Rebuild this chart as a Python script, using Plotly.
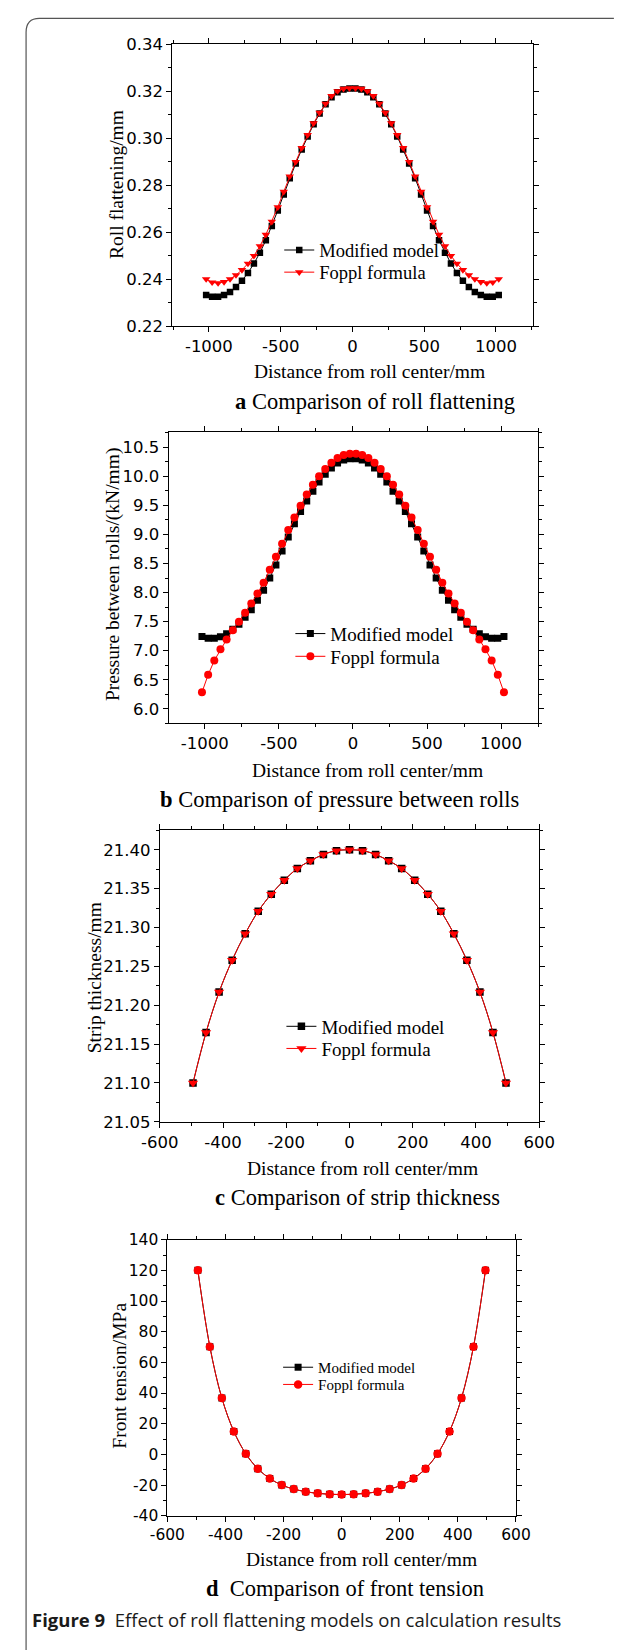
import plotly.graph_objects as go

W, H = 624, 1650

# ---------------- data ----------------
# (a) Roll flattening, (b) Pressure between rolls
x_ab = [-1019.2, -977.6, -936.0, -894.4, -852.8, -811.2, -769.6, -728.0, -686.4, -644.8,
        -603.2, -561.6, -520.0, -478.4, -436.8, -395.2, -353.6, -312.0, -270.4, -228.8,
        -187.2, -145.6, -104.0, -62.4, -20.8,
        20.8, 62.4, 104.0, 145.6, 187.2, 228.8, 270.4, 312.0, 353.6, 395.2,
        436.8, 478.4, 520.0, 561.6, 603.2, 644.8, 686.4, 728.0, 769.6, 811.2,
        852.8, 894.4, 936.0, 977.6, 1019.2]

flat_modified = [0.2333, 0.2326, 0.2326, 0.2333, 0.2346, 0.2367, 0.2394, 0.2427, 0.2467, 0.2513,
                 0.2566, 0.2627, 0.2693, 0.2761, 0.2830, 0.2893, 0.2952, 0.3008, 0.3060, 0.3105,
                 0.3145, 0.3175, 0.3196, 0.3208, 0.3212,
                 0.3212, 0.3208, 0.3196, 0.3175, 0.3145, 0.3105, 0.3060, 0.3008, 0.2952, 0.2893,
                 0.2830, 0.2761, 0.2693, 0.2627, 0.2566, 0.2513, 0.2467, 0.2427, 0.2394, 0.2367,
                 0.2346, 0.2333, 0.2326, 0.2326, 0.2333]

flat_foppl = [0.2401, 0.2387, 0.2384, 0.2389, 0.2401, 0.2418, 0.2440, 0.2467, 0.2500, 0.2541,
              0.2590, 0.2645, 0.2707, 0.2773, 0.2838, 0.2900, 0.2959, 0.3014, 0.3064, 0.3109,
              0.3147, 0.3180, 0.3201, 0.3211, 0.3213,
              0.3213, 0.3211, 0.3201, 0.3180, 0.3147, 0.3109, 0.3064, 0.3014, 0.2959, 0.2900,
              0.2838, 0.2773, 0.2707, 0.2645, 0.2590, 0.2541, 0.2500, 0.2467, 0.2440, 0.2418,
              0.2401, 0.2389, 0.2384, 0.2387, 0.2401]

press_modified = [7.244, 7.216, 7.216, 7.239, 7.290, 7.370, 7.455, 7.574, 7.705, 7.869,
                  8.040, 8.250, 8.472, 8.716, 8.955, 9.182, 9.392, 9.574, 9.744, 9.903,
                  10.034, 10.142, 10.227, 10.280, 10.300,
                  10.300, 10.280, 10.227, 10.142, 10.034, 9.903, 9.744, 9.574, 9.392, 9.182,
                  8.955, 8.716, 8.472, 8.250, 8.040, 7.869, 7.705, 7.574, 7.455, 7.370,
                  7.290, 7.239, 7.216, 7.216, 7.244]

press_foppl = [6.284, 6.585, 6.830, 7.023, 7.193, 7.352, 7.500, 7.653, 7.813, 7.983,
               8.170, 8.392, 8.614, 8.841, 9.074, 9.290, 9.494, 9.688, 9.852, 10.000,
               10.125, 10.233, 10.313, 10.364, 10.388,
               10.388, 10.364, 10.313, 10.233, 10.125, 10.000, 9.852, 9.688, 9.494, 9.290,
               9.074, 8.841, 8.614, 8.392, 8.170, 7.983, 7.813, 7.653, 7.500, 7.352,
               7.193, 7.023, 6.830, 6.585, 6.284]

# (c) Strip thickness, (d) Front tension
x_cd = [-495.0, -453.75, -412.5, -371.25, -330.0, -288.75, -247.5, -206.25, -165.0, -123.75,
        -82.5, -41.25, 0.0, 41.25, 82.5, 123.75, 165.0, 206.25, 247.5, 288.75,
        330.0, 371.25, 412.5, 453.75, 495.0]

thick_modified = [21.100, 21.165, 21.217, 21.258, 21.292, 21.321, 21.343, 21.361, 21.376, 21.386,
                  21.394, 21.399, 21.400, 21.399, 21.394, 21.386, 21.376, 21.361, 21.343, 21.321,
                  21.292, 21.258, 21.217, 21.165, 21.100]
thick_foppl = [21.100, 21.165, 21.217, 21.258, 21.292, 21.321, 21.343, 21.361, 21.376, 21.386,
               21.394, 21.399, 21.400, 21.399, 21.394, 21.386, 21.376, 21.361, 21.343, 21.321,
               21.292, 21.258, 21.217, 21.165, 21.100]

tension_modified = [120.0, 70.2, 36.7, 15.0, 0.4, -9.3, -15.7, -20.0, -22.6, -24.3,
                    -25.4, -26.0, -26.2, -26.0, -25.4, -24.3, -22.6, -20.0, -15.7, -9.3,
                    0.4, 15.0, 36.7, 70.2, 120.0]
tension_foppl = [120.0, 70.2, 36.7, 15.0, 0.4, -9.3, -15.7, -20.0, -22.6, -24.3,
                 -25.4, -26.0, -26.2, -26.0, -25.4, -24.3, -22.6, -20.0, -15.7, -9.3,
                 0.4, 15.0, 36.7, 70.2, 120.0]

# tick values / labels (hyphen-minus as in the original)
xtick_ab_vals = [-1000, -500, 0, 500, 1000]
xtick_ab_text = ["-1000", "-500", "0", "500", "1000"]
xtick_cd_vals = [-600, -400, -200, 0, 200, 400, 600]
xtick_cd_text = ["-600", "-400", "-200", "0", "200", "400", "600"]
ytick_d_vals = [-40, -20, 0, 20, 40, 60, 80, 100, 120, 140]
ytick_d_text = ["-40", "-20", "0", "20", "40", "60", "80", "100", "120", "140"]

series_names = ["Modified model", "Foppl formula"]
x_title = "Distance from roll center/mm"
y_titles = ["Roll flattening/mm", "Pressure between rolls/(kN/mm)",
            "Strip thickness/mm", "Front tension/MPa"]
captions = ["<b>a</b> Comparison of roll flattening",
            "<b>b</b> Comparison of pressure between rolls",
            "<b>c</b> Comparison of strip thickness",
            "<b>d</b>  Comparison of front tension"]
figure_caption = "<b>Figure 9</b>  Effect of roll flattening models on calculation results"

# ---------------- layout helpers ----------------
def fx(p):
    return p / W

def fy(p):
    return 1 - p / H

SERIF = "Liberation Serif, Times New Roman, serif"
SANS = "DejaVu Sans, Arial, sans-serif"
BLACK = "#000000"
RED = "#ff0000"

fig = go.Figure()

panels = [
    dict(x=x_ab, m=flat_modified, f=flat_foppl, fsym="triangle-down", ax="",
         msize=6.5, fsize=7.5, spline=False),
    dict(x=x_ab, m=press_modified, f=press_foppl, fsym="circle", ax="2",
         msize=7, fsize=8, spline=False),
    dict(x=x_cd, m=thick_modified, f=thick_foppl, fsym="triangle-down", ax="3",
         msize=7.5, fsize=9, spline=True),
    dict(x=x_cd, m=tension_modified, f=tension_foppl, fsym="circle", ax="4",
         msize=7, fsize=8.5, spline=True),
]

leg_names = []
for k in range(8):
    leg_names.append("legend" if k == 0 else "legend%d" % (k + 1))

for i, p in enumerate(panels):
    shape = "spline" if p["spline"] else "linear"
    fig.add_trace(go.Scatter(
        x=p["x"], y=p["m"], name=series_names[0], mode="lines+markers",
        line=dict(color=BLACK, width=1, shape=shape),
        marker=dict(symbol="square", size=p["msize"], color=BLACK),
        xaxis="x" + p["ax"], yaxis="y" + p["ax"], legend=leg_names[2 * i]))
    fig.add_trace(go.Scatter(
        x=p["x"], y=p["f"], name=series_names[1], mode="lines+markers",
        line=dict(color=RED, width=1, shape=shape),
        marker=dict(symbol=p["fsym"], size=p["fsize"], color=RED),
        xaxis="x" + p["ax"], yaxis="y" + p["ax"], legend=leg_names[2 * i + 1]))


def axis(domain, rng, dtick, minor_dtick, fsize, anchor, fmt=None, tv=None, tt=None):
    d = dict(domain=domain, range=rng, dtick=dtick, tick0=0, anchor=anchor,
             showline=True, linecolor=BLACK, linewidth=1, mirror="ticks",
             ticks="outside", ticklen=5, tickwidth=1, tickcolor=BLACK,
             showgrid=False, zeroline=False,
             tickfont=dict(family=SANS, size=fsize, color=BLACK),
             minor=dict(dtick=minor_dtick, tick0=0, ticks="outside", ticklen=3, tickwidth=1,
                        tickcolor=BLACK, showgrid=False))
    if fmt:
        d["tickformat"] = fmt
    if tv is not None:
        d["tickmode"] = "array"
        d["tickvals"] = tv
        d["ticktext"] = tt
    return d

# plot-area boxes in pixels: (left, right, top, bottom)
boxes = [
    (162.4, 544.4, 35.7, 321.0),
    (158.4, 550.0, 428.3, 722.7),
    (149.2, 551.1, 831.0, 1125.7),
    (157.2, 526.5, 1245.0, 1524.3),
]
xr = [[-1255, 1257], [-1245, 1250], [-600, 600], [-600, 600]]
yr = [[0.22, 0.34], [5.75, 10.755], [21.05, 21.425], [-40, 140]]
xd = [(500, 250), (500, 250), (200, 100), (200, 100)]
yd = [(0.02, 0.01), (0.5, 0.25), (0.05, 0.025), (20, 10)]
yfmt = [".2f", ".1f", ".2f", None]
tfs = [16.5, 16.5, 16.5, 15.5]
xtv = [(xtick_ab_vals, xtick_ab_text), (xtick_ab_vals, xtick_ab_text),
       (xtick_cd_vals, xtick_cd_text), (xtick_cd_vals, xtick_cd_text)]
ytv = [(None, None), (None, None), (None, None), (ytick_d_vals, ytick_d_text)]

layout_axes = {}
for i, (l, r, t, b) in enumerate(boxes):
    suf = "" if i == 0 else str(i + 1)
    layout_axes["xaxis" + suf] = axis([fx(l), fx(r)], xr[i], xd[i][0], xd[i][1], tfs[i], "y" + suf,
                                      None, xtv[i][0], xtv[i][1])
    layout_axes["yaxis" + suf] = axis([fy(b), fy(t)], yr[i], yd[i][0], yd[i][1], tfs[i], "x" + suf,
                                      yfmt[i], ytv[i][0], ytv[i][1])

fig.update_layout(**layout_axes)

# one legend per entry: (legend left x px, row centre y px, font size)
leg_pos = [(275.7, 244.3, 18.5), (275.7, 266.7, 18.5),
           (287.5, 632.0, 19), (287.5, 655.0, 19),
           (278.0, 1029.3, 19), (278.0, 1051.7, 19),
           (274.5, 1374.3, 15), (274.5, 1391.7, 15)]
for k, (lx, ly, fs) in enumerate(leg_pos):
    fig.update_layout(**{leg_names[k]: dict(x=fx(lx), y=fy(ly), xanchor="left", yanchor="middle",
                                            bgcolor="rgba(0,0,0,0)", borderwidth=0,
                                            font=dict(family=SERIF, size=fs, color=BLACK),
                                            itemsizing="trace")})

# titles and captions
annots = []
xt_pos = [(371.0, 367.0), (369.7, 770.0), (364.0, 1172.7), (363.0, 1568.3)]
cap_pos = [(377.5, 397.0), (340.0, 800.0), (359.0, 1202.7), (345.0, 1598.3)]
yt_pos = [(103.9, 178.0), (99.5, 571.7), (80.0, 980.0), (105.5, 1383.0)]
for i in range(4):
    annots.append(dict(text=x_title, x=fx(xt_pos[i][0]), y=fy(xt_pos[i][1]), xref="paper", yref="paper",
                       xanchor="center", yanchor="middle", showarrow=False,
                       font=dict(family=SERIF, size=19.5, color=BLACK)))
    annots.append(dict(text=captions[i], x=fx(cap_pos[i][0]), y=fy(cap_pos[i][1]), xref="paper", yref="paper",
                       xanchor="center", yanchor="middle", showarrow=False,
                       font=dict(family=SERIF, size=22.5, color=BLACK)))
    annots.append(dict(text=y_titles[i], x=fx(yt_pos[i][0]), y=fy(yt_pos[i][1]), xref="paper", yref="paper",
                       xanchor="center", yanchor="middle", showarrow=False, textangle=-90,
                       font=dict(family=SERIF, size=19.5, color=BLACK)))
annots.append(dict(text=figure_caption, x=fx(12), y=fy(1629), xref="paper", yref="paper",
                   xanchor="left", yanchor="middle", showarrow=False,
                   font=dict(family="Open Sans, Noto Sans, sans-serif", size=18.5, color="#1a1a1a")))

# page frame (rounded corner at top-left)
x0 = fx(7.5)
yt = fy(9.5)
rx = 14 / W
ry = 14 / H
frame = dict(type="path", xref="paper", yref="paper",
             path=f"M {x0},-0.01 L {x0},{yt - ry} Q {x0},{yt} {x0 + rx},{yt} L 1.01,{yt}",
             line=dict(color="#555555", width=1.2))

fig.update_layout(width=W, height=H, margin=dict(l=0, r=0, t=0, b=0),
                  paper_bgcolor="white", plot_bgcolor="white",
                  annotations=annots, shapes=[frame], showlegend=True)

fig.write_html("out.html")
